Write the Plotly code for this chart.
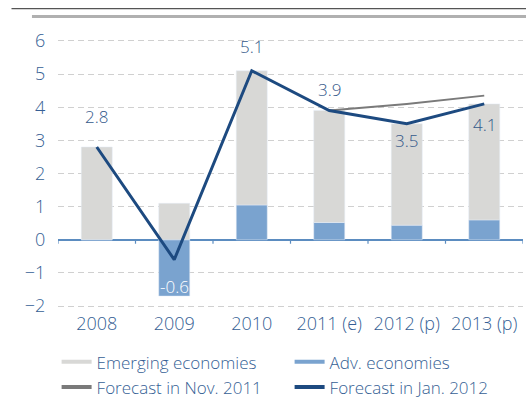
import plotly.graph_objects as go

categories = ["2008", "2009", "2010", "2011 (e)", "2012 (p)", "2013 (p)"]
emerging = [2.8, 1.1, 4.05, 3.38, 3.06, 3.5]
advanced = [0.0, -1.7, 1.05, 0.52, 0.44, 0.6]
forecast_nov = [None, None, None, 3.9, 4.1, 4.35]
forecast_jan = [2.8, -0.6, 5.1, 3.9, 3.5, 4.1]
label_text = ["2.8", "-0.6", "5.1", "3.9", "3.5", "4.1"]

LIGHT_GRAY = "#d8d8d6"
BAR_BLUE = "#7aa3cf"
NAVY = "#1d4a80"
DARK_GRAY = "#7a7a7a"
TEXT_BLUE = "#365f95"
FONT = "Open Sans"

fig = go.Figure()
fig.add_trace(go.Bar(x=categories, y=advanced, marker_color=BAR_BLUE, width=0.4,
                     showlegend=False, hoverinfo="skip"))
fig.add_trace(go.Bar(x=categories, y=emerging, marker_color=LIGHT_GRAY, width=0.4,
                     showlegend=False, hoverinfo="skip"))
fig.add_trace(go.Scatter(x=categories, y=forecast_nov, mode="lines",
                         line=dict(color=DARK_GRAY, width=2), showlegend=False))
fig.add_trace(go.Scatter(x=categories, y=forecast_jan, mode="lines",
                         line=dict(color=NAVY, width=3), showlegend=False))

# legend entries (thick short lines as in the reference)
for name, col in [("Emerging economies", LIGHT_GRAY), ("Adv. economies", BAR_BLUE),
                  ("Forecast in Nov. 2011", DARK_GRAY), ("Forecast in Jan. 2012", NAVY)]:
    fig.add_trace(go.Scatter(x=[None], y=[None], mode="lines", name=name,
                             line=dict(color=col, width=4)))

# data labels (x given as category index)
shifts = [30, 10, 24, 21, -17, -21]
for i, (v, t) in enumerate(zip(forecast_jan, label_text)):
    if i == 1:
        fig.add_annotation(x=i, y=advanced[i], text=t, showarrow=False, yshift=shifts[i],
                           font=dict(family=FONT, size=17, color="white", weight=300))
    else:
        fig.add_annotation(x=i, y=v, text=t, showarrow=False, yshift=shifts[i],
                           font=dict(family=FONT, size=17, color="#34598a", weight=300))

# small ticks on the zero line at category boundaries
for k in range(len(categories) + 1):
    fig.add_shape(type="line", xref="x", yref="y", x0=k - 0.5, x1=k - 0.5, y0=0, y1=-0.12,
                  line=dict(color="#5b8cc0", width=1.2))

# header rules
fig.add_shape(type="line", xref="paper", yref="paper", x0=-0.10, x1=1.01, y0=1.08, y1=1.08,
              line=dict(color="#555555", width=1.2))
fig.add_shape(type="line", xref="paper", yref="paper", x0=-0.056, x1=1.01, y0=1.052, y1=1.052,
              line=dict(color="#b0b0b0", width=3))

fig.update_layout(
    width=526, height=398,
    margin=dict(l=58, r=3, t=31, b=86.5, autoexpand=False),
    paper_bgcolor="white", plot_bgcolor="white",
    barmode="relative",
    font=dict(family=FONT, size=18, color=TEXT_BLUE, weight=300),
    xaxis=dict(range=[-0.5, 5.5], showgrid=False, showline=False, zeroline=False,
               tickfont=dict(size=18, color=TEXT_BLUE, weight=300), ticks=""),
    yaxis=dict(range=[-2.15, 6.3], dtick=1, tick0=0, showgrid=True, gridcolor="#d0d0d0",
               griddash="6px,4px", gridwidth=1, zeroline=True, zerolinecolor="#5b8cc0",
               zerolinewidth=1.5, showline=False, ticks="outside", ticklen=8,
               tickcolor="rgba(0,0,0,0)", tickfont=dict(size=18, color=TEXT_BLUE, weight=300)),
    legend=dict(orientation="h", x=-0.003, xanchor="left", y=-0.119, yanchor="top",
                entrywidth=188, entrywidthmode="pixels", traceorder="normal",
                font=dict(size=17, color=TEXT_BLUE, weight=300), bgcolor="rgba(0,0,0,0)",
                itemwidth=30, tracegroupgap=0),
)

fig.write_html("out.html")
